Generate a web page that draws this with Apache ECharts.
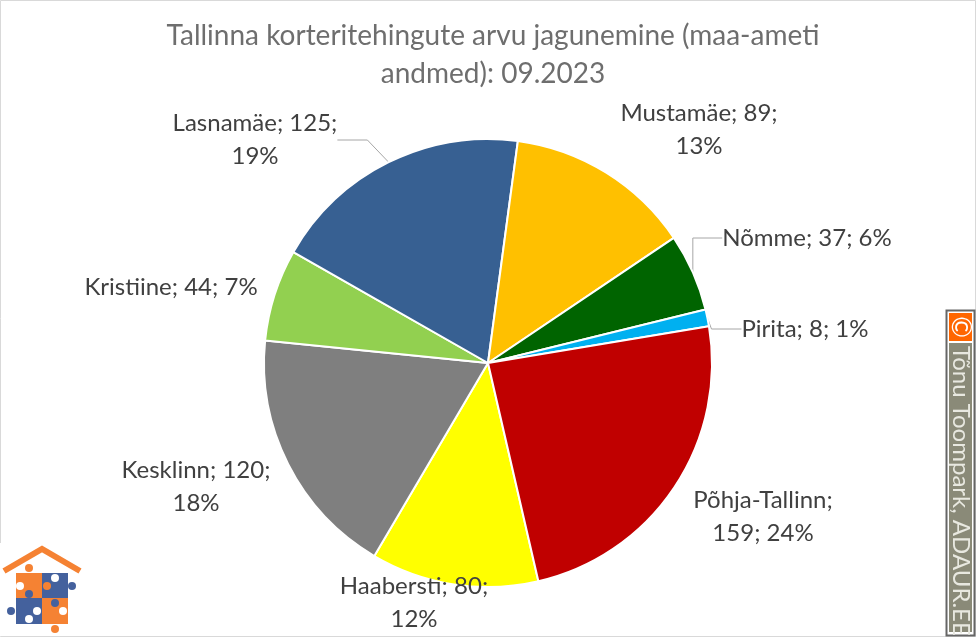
<!DOCTYPE html>
<html>
<head>
<meta charset="utf-8">
<style>
  html, body { margin: 0; padding: 0; background: #fff; }
  #chart { width: 976px; height: 637px; }
</style>
<script src="https://cdn.jsdelivr.net/npm/echarts@6/dist/echarts.min.js"></script>
</head>
<body>
<div id="chart"></div>
<script>
// wrap: 0 = one line, 1 = percent on second line, 2 = value and percent on second line
var rows = [
  { name: 'Haabersti', value: 80, color: '#FFFF00', wrap: 1, lx: 414, ly: 603 },
  { name: 'Kesklinn', value: 120, color: '#7F7F7F', wrap: 1, lx: 196, ly: 487 },
  { name: 'Kristiine', value: 44, color: '#92D050', wrap: 0, lx: 171, ly: 287 },
  { name: 'Lasnamäe', value: 125, color: '#376092', wrap: 1, lx: 255, ly: 140 },
  { name: 'Mustamäe', value: 89, color: '#FFC000', wrap: 1, lx: 699, ly: 130 },
  { name: 'Nõmme', value: 37, color: '#006400', wrap: 0, lx: 807, ly: 238, line: true },
  { name: 'Pirita', value: 8, color: '#00B0F0', wrap: 0, lx: 805, ly: 329, line: true },
  { name: 'Põhja-Tallinn', value: 159, color: '#C00000', wrap: 2, lx: 763, ly: 517 }
];
rows[3].line = true;

var font = 'Lato, Carlito, "Open Sans", sans-serif';

var chart = echarts.init(document.getElementById('chart'), null, { renderer: 'canvas' });

// logo: puzzle house in the lower left corner
function dot(x, y, r, c) {
  return { type: 'circle', shape: { cx: x, cy: y, r: r }, style: { fill: c }, z: 11 };
}
function box(x, y, w, h, c) {
  return { type: 'rect', shape: { x: x, y: y, width: w, height: h }, style: { fill: c }, z: 10 };
}
var ORANGE = '#F58233', BLUE = '#44619D';
var logo = [
  box(0, 543, 85, 93, '#fff'),
  { type: 'polyline', shape: { points: [[4, 571], [42, 549], [80, 571]] },
    style: { stroke: ORANGE, lineWidth: 6, fill: null }, z: 11 },
  box(16, 573, 26, 25, ORANGE), box(42, 573, 26, 25, BLUE),
  box(16, 598, 26, 26, BLUE), box(42, 598, 26, 26, ORANGE),
  dot(29, 568, 4, ORANGE), dot(20, 586, 4, '#fff'), dot(47, 586, 4, ORANGE),
  dot(55, 578, 4, '#fff'), dot(72, 586, 4, BLUE), dot(29, 594, 4, BLUE),
  dot(55, 603, 4, BLUE), dot(11, 611, 4, BLUE), dot(37, 611, 4, '#fff'),
  dot(63, 611, 4, '#fff'), dot(29, 619, 4, '#fff'), dot(55, 629, 4, ORANGE)
];

// copyright badge on the right edge
var badge = [
  { type: 'rect', shape: { x: 946.5, y: 310.5, width: 28, height: 325 },
    style: { fill: '#fff', stroke: '#666', lineWidth: 2 }, z: 10 },
  box(949, 313, 23, 28, '#FF6600'),
  box(949, 343, 23, 289, '#8A8A78'),
  { type: 'text', x: 960.5, y: 327, rotation: -Math.PI / 2, z: 12,
    style: { text: '©', fill: '#fff', font: '26px ' + font, align: 'center', verticalAlign: 'middle' } },
  { type: 'text', x: 960.5, y: 346, rotation: -Math.PI / 2, z: 12,
    style: { text: 'Tõnu Toompark, ADAUR.EE', fill: '#E8E8E0', font: '24px ' + font, align: 'left', verticalAlign: 'middle' } }
];

chart.setOption({
  animation: false,
  backgroundColor: '#fff',
  title: {
    text: 'Tallinna korteritehingute arvu jagunemine (maa-ameti\nandmed): 09.2023',
    left: 488, top: 12, textAlign: 'center',
    textStyle: { color: '#6E6E6E', fontFamily: font, fontWeight: 'normal', fontSize: 28, lineHeight: 38 }
  },
  graphic: [
    { type: 'rect', shape: { x: 0.5, y: 0.5, width: 975, height: 636 },
      style: { fill: null, stroke: '#D9D9D9', lineWidth: 1 }, z: 1 }
  ].concat(logo, badge),
  series: [{
    type: 'pie',
    center: [488, 363],
    radius: [0, 224],
    startAngle: 283,
    percentPrecision: 0,
    itemStyle: { borderColor: '#fff', borderWidth: 2 },
    label: {
      show: true,
      position: 'outside',
      color: '#404040',
      fontFamily: font,
      fontSize: 24,
      lineHeight: 33,
      align: 'center',
      formatter: function (p) {
        var w = p.data.wrap;
        if (w === 1) return p.name + '; ' + p.value + ';\n' + p.percent + '%';
        if (w === 2) return p.name + ';\n' + p.value + '; ' + p.percent + '%';
        return p.name + '; ' + p.value + '; ' + p.percent + '%';
      }
    },
    labelLine: { show: false, lineStyle: { color: '#A6A6A6', width: 1 } },
    labelLayout: function (p) {
      var r = rows[p.dataIndex];
      return { x: r.lx, y: r.ly, align: 'center', verticalAlign: 'middle' };
    },
    data: rows.map(function (r) {
      return {
        name: r.name, value: r.value, wrap: r.wrap,
        itemStyle: { color: r.color },
        labelLine: { show: !!r.line }
      };
    })
  }]
});
</script>
</body>
</html>
